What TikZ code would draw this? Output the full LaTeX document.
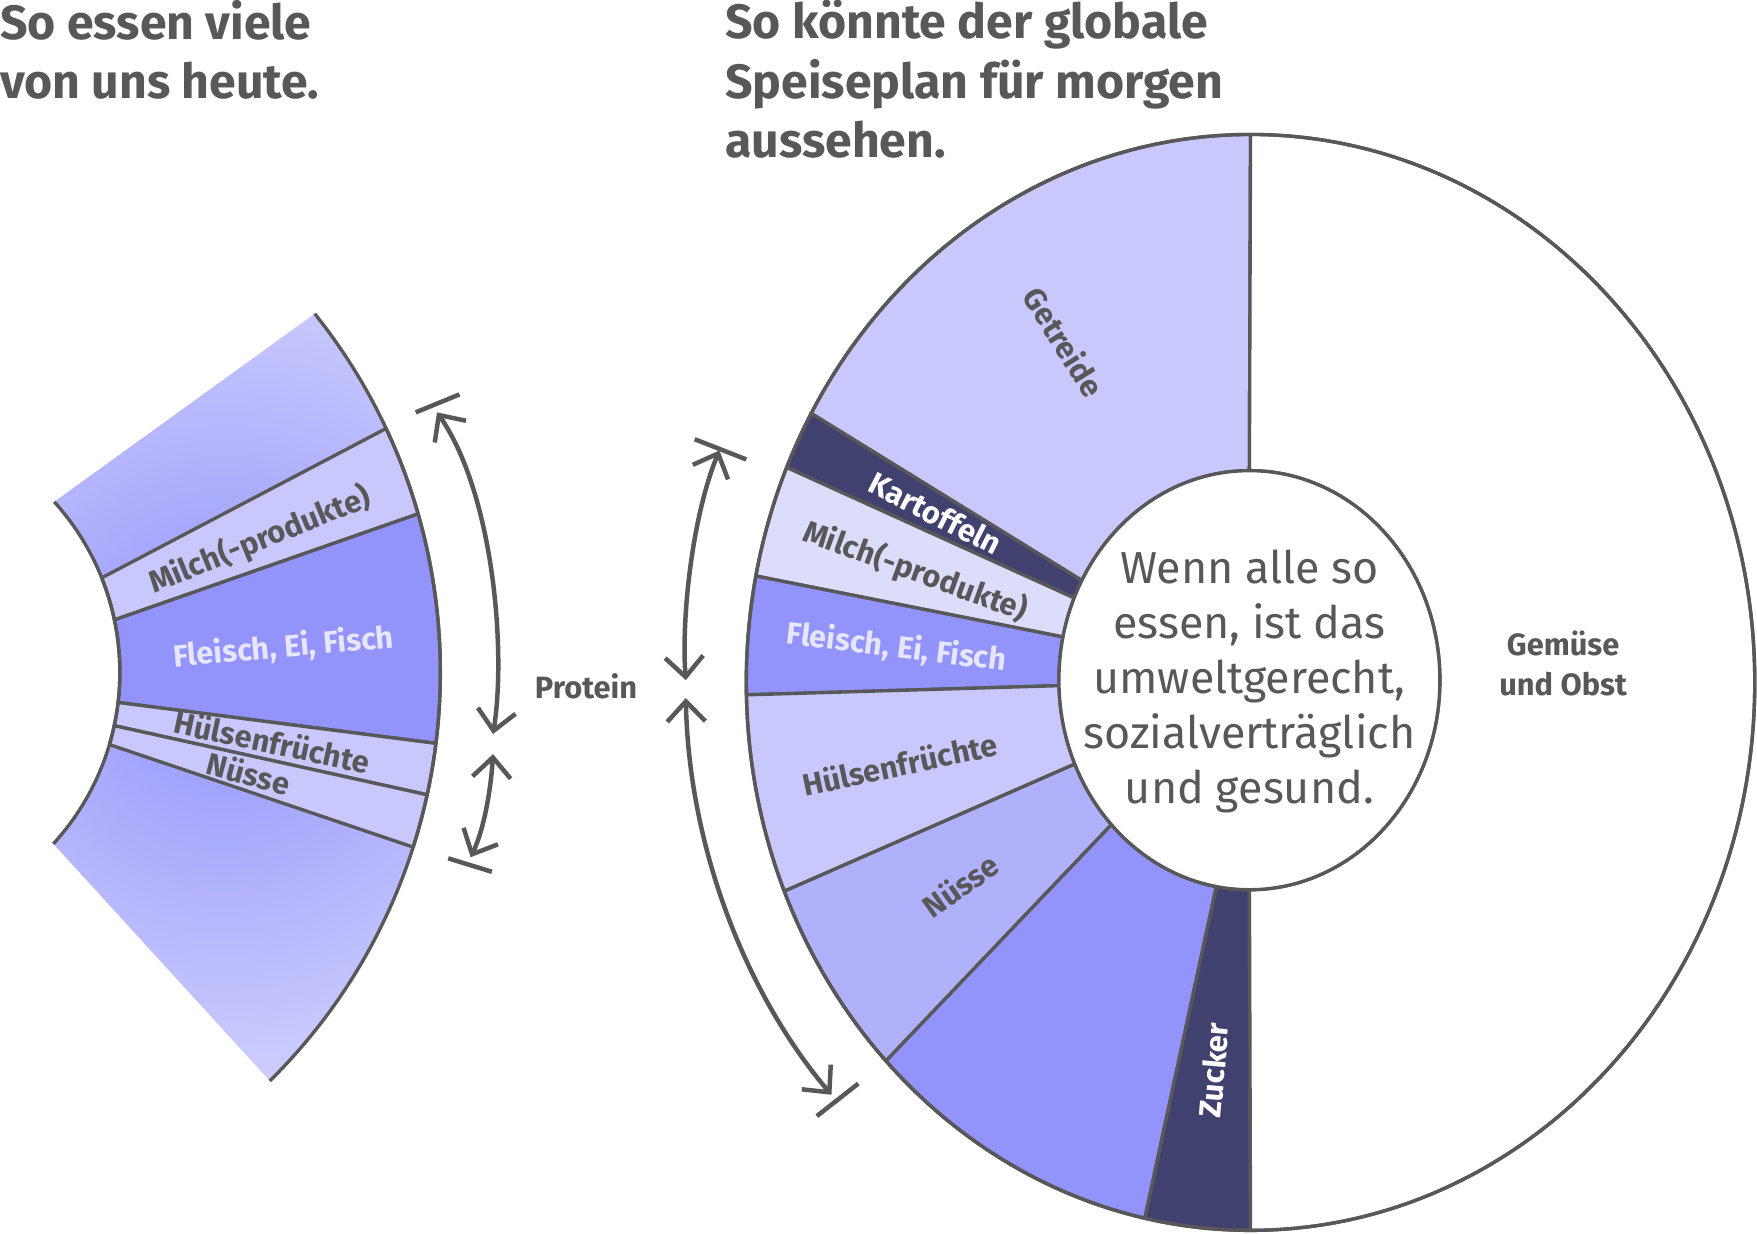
\documentclass[tikz,border=0pt]{standalone}
\usepackage{fontspec}
\setmainfont{Fira Sans}
\usetikzlibrary{calc,arrows.meta}
\definecolor{gr}{HTML}{58585A}
\definecolor{lav}{HTML}{C8C8FD}
\definecolor{lavl}{HTML}{DCDCFB}
\definecolor{lavm}{HTML}{B0B1FB}
\definecolor{lavd}{HTML}{9294FB}
\definecolor{navy}{HTML}{40416E}
\definecolor{pale}{HTML}{E6E6FF}
\tikzset{
 segline/.style={draw=gr,line width=3pt,line join=round},
 arr/.style={draw=gr,line width=4pt,{Straight Barb[length=18pt,width=34pt]}-{Straight Barb[length=18pt,width=34pt]}},
 tick/.style={draw=gr,line width=4pt},
 lbl/.style={font=\bfseries\fontsize{27.5}{30}\selectfont,text=gr},
 ttl/.style={font=\bfseries\fontsize{43}{53}\selectfont,text=gr,align=left,anchor=north west,inner sep=0pt},
}
\newcommand\rseg[5]{\filldraw[fill=#5,segline] ($(oc)+(-#1:450 and 489)$) arc[start angle=-#1,end angle=-#2,x radius=450,y radius=489] -- ($(ic)+(-#4:170 and 187)$) arc[start angle=-#4,end angle=-#3,x radius=170,y radius=187] -- cycle;}
\newcommand\lseg[5]{\filldraw[fill=#5,segline] ($(lc)+(-#1:513)$) arc[start angle=-#1,end angle=-#2,radius=513] -- ($(lc)+(-#4:227)$) arc[start angle=-#4,end angle=-#3,radius=227] -- cycle;}
\begin{document}
\begin{tikzpicture}[x=1pt,y=-1pt]
\useasboundingbox[fill=white] (0,0) rectangle (1568,1101);
\coordinate (oc) at (1116,609);
\coordinate (ic) at (1115,607);
\coordinate (lc) at (-120,600);
% titles
\node[ttl] (t1) at (0,0) {So essen viele\\von uns heute.};
\node[ttl] (t2) at (647,0) {So könnte der globale\\Speiseplan für morgen\\aussehen.};
% right chart
\rseg{90}{150.6}{90}{151.6}{lav}
\rseg{150.6}{156.9}{151.6}{156.9}{navy}
\rseg{156.9}{168.8}{156.9}{168.1}{lavl}
\rseg{168.8}{181.3}{168.1}{181.5}{lavd}
\rseg{181.3}{202.4}{181.5}{203.6}{lav}
\rseg{202.4}{223.7}{203.6}{223.6}{lavm}
\rseg{223.7}{257.9}{223.6}{260}{lavd}
\rseg{257.9}{270}{260}{270}{navy}
\rseg{270}{450}{270}{450}{white}
\draw[segline] (oc) ellipse[x radius=450,y radius=489];
\filldraw[fill=white,segline] (ic) ellipse[x radius=170,y radius=187];
\node[align=center,text=gr,font=\fontsize{40}{49}\selectfont] (ctext) at (1115,608) {Wenn alle so\\essen, ist das\\umweltgerecht,\\sozialverträglich\\und gesund.};
\node[lbl,rotate=-58] (getr) at (950,305) {Getreide};
\node[lbl,rotate=-27,text=white] (kart) at (835,458) {Kartoffeln};
\node[lbl,rotate=-20] (milchr) at (817,510) {Milch(-produkte)};
\node[lbl,rotate=-7,text=pale] (fleischr) at (800,578) {Fleisch, Ei, Fisch};
\node[lbl,rotate=12] (huelr) at (803,682) {Hülsenfrüchte};
\node[lbl,rotate=35] (nuer) at (857,790) {Nüsse};
\node[lbl,rotate=85,text=white] (zuck) at (1083,955) {Zucker};
\node[lbl,align=center,font=\bfseries\fontsize{27.5}{36}\selectfont] (gem) at (1395,592) {Gemüse\\und Obst};
% left chart
\begin{scope}
\clip ($(lc)+(-38.6:513)$) arc[start angle=-38.6,end angle=45.3,radius=513] -- ($(lc)+(42.4:227)$) arc[start angle=42.4,end angle=-42.1,radius=227] -- cycle;
\shade[inner color=lavd,outer color=white] (200,600) circle[radius=680];
\end{scope}
\lseg{16.0}{25.1}{11.9}{21.8}{lav}
\lseg{-7.1}{16.0}{-6.8}{11.9}{lavd}
\lseg{-12.3}{-7.1}{-12.1}{-6.8}{lav}
\lseg{-17.7}{-12.3}{-16.5}{-12.1}{lav}
\draw[segline] ($(lc)+(-38.6:513)$) arc[start angle=-38.6,end angle=45.3,radius=513];
\draw[segline] ($(lc)+(-42.1:227)$) arc[start angle=-42.1,end angle=42.4,radius=227];
\node[lbl,rotate=22] (milchl) at (232,482) {Milch(-produkte)};
\node[lbl,rotate=5,text=pale] (fleischl) at (253,578) {Fleisch, Ei, Fisch};
\node[lbl,rotate=-12] (huell) at (243,662) {Hülsenfrüchte};
\node[lbl,rotate=-15] (nuel) at (222,690) {Nüsse};
% arrows
\coordinate (la1) at (390,368); \coordinate (la2) at (440,655);
\coordinate (la3) at (440,673); \coordinate (la4) at (420,765);
\coordinate (ra1) at (642,402); \coordinate (ra2) at (612,607);
\coordinate (ra3) at (612,623); \coordinate (ra4) at (742,977);
\draw[arr] (la1) .. controls (440,440) and (452,580) .. (la2);
\draw[arr] (la3) .. controls (438,705) and (432,740) .. (la4);
\draw[arr] (ra1) .. controls (618,460) and (608,550) .. (ra2);
\draw[arr] (ra3) .. controls (615,760) and (668,890) .. (ra4);
\coordinate (k1) at (371,368); \coordinate (k2) at (410,352);
\coordinate (k3) at (400,766); \coordinate (k4) at (439,778);
\coordinate (k5) at (620,392); \coordinate (k6) at (666,410);
\coordinate (k7) at (729,996); \coordinate (k8) at (766,967);
\draw[tick] (k1) -- (k2); \draw[tick] (k3) -- (k4);
\draw[tick] (k5) -- (k6); \draw[tick] (k7) -- (k8);
\node[lbl] (prot) at (523,612) {Protein};
\end{tikzpicture}
\end{document}
